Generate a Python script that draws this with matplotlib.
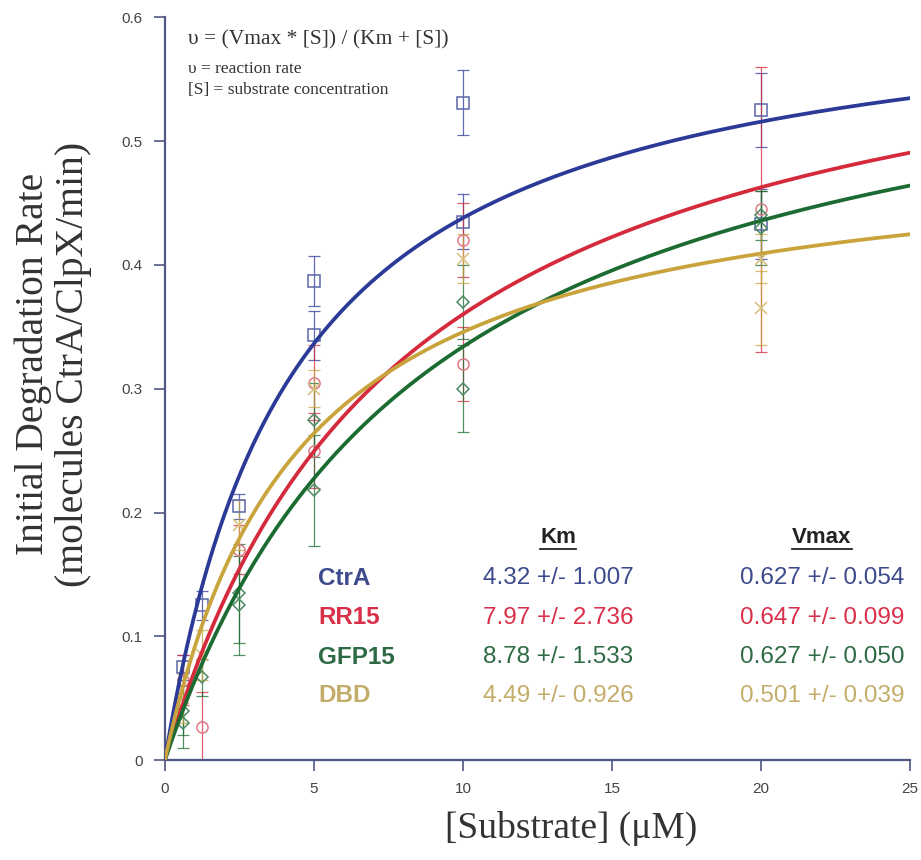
import matplotlib
matplotlib.use("Agg")
import matplotlib.pyplot as plt
import numpy as np

# ---------------------------------------------------------------- data
# fitted Michaelis-Menten parameters (Km in uM, Vmax in molecules/ClpX/min)
names   = ["CtrA", "RR15", "GFP15", "DBD"]
km      = [4.32, 7.97, 8.78, 4.49]
km_err  = [1.007, 2.736, 1.533, 0.926]
vmax    = [0.627, 0.647, 0.627, 0.501]
vmax_err = [0.054, 0.099, 0.050, 0.039]

# measured initial rates (replicates share a concentration)
ctra_x   = [0.625, 1.25, 2.5, 5, 5, 10, 10, 20, 20]
ctra_y   = [0.075, 0.125, 0.205, 0.387, 0.343, 0.531, 0.435, 0.525, 0.433]
ctra_e   = [0.010, 0.012, 0.010, 0.020, 0.020, 0.026, 0.022, 0.030, 0.028]

rr15_x   = [0.625, 1.25, 2.5, 5, 5, 10, 10, 20]
rr15_y   = [0.065, 0.027, 0.170, 0.305, 0.250, 0.420, 0.320, 0.445]
rr15_e   = [0.020, 0.028, 0.020, 0.030, 0.030, 0.030, 0.030, 0.115]

gfp15_x  = [0.625, 0.625, 1.25, 2.5, 2.5, 5, 5, 10, 10, 20, 20]
gfp15_y  = [0.040, 0.030, 0.067, 0.135, 0.125, 0.275, 0.218, 0.370, 0.300, 0.440, 0.430]
gfp15_e  = [0.020, 0.020, 0.015, 0.040, 0.040, 0.030, 0.045, 0.030, 0.035, 0.020, 0.030]

dbd_x    = [0.625, 1.25, 2.5, 5, 10, 20, 20]
dbd_y    = [0.050, 0.085, 0.190, 0.300, 0.405, 0.405, 0.365]
dbd_e    = [0.020, 0.020, 0.020, 0.015, 0.020, 0.020, 0.030]

xs   = [ctra_x, rr15_x, gfp15_x, dbd_x]
ys   = [ctra_y, rr15_y, gfp15_y, dbd_y]
errs = [ctra_e, rr15_e, gfp15_e, dbd_e]

line_c = ["#2b3a97", "#d42a3c", "#1c6b32", "#c9a43c"]
text_c = ["#3d4a8c", "#d9304a", "#2e6b45", "#c4ad6a"]
mark_c = ["#5a66a8", "#e07a86", "#4d8a62", "#d6c07a"]
markers = ["s", "o", "D", "x"]

spine_c = "#4f5785"

# ---------------------------------------------------------------- plot
fig = plt.figure(figsize=(9.21, 8.6), dpi=100)
ax = fig.add_axes([0.179, 0.116, 0.809, 0.864])

for i in range(4):
    ax.errorbar(xs[i], ys[i], yerr=errs[i], fmt="none", ecolor=line_c[i],
                elinewidth=0.9, capsize=4, capthick=0.9, alpha=0.75, zorder=2)
    ax.plot(xs[i], ys[i], markers[i], ms=8 if markers[i] != "D" else 6.5,
            mfc="none", mec=mark_c[i], mew=1.1, zorder=3)

s = np.linspace(0, 25, 400)
for i in range(4):
    ax.plot(s, vmax[i] * s / (km[i] + s), color=line_c[i], lw=2.7, zorder=4)

ax.set_xlim(0, 25)
ax.set_ylim(0, 0.6)
ax.set_xticks([0, 5, 10, 15, 20, 25])
ax.set_yticks([0, 0.1, 0.2, 0.3, 0.4, 0.5, 0.6])
ax.set_yticklabels(["0", "0.1", "0.2", "0.3", "0.4", "0.5", "0.6"])
for sp in ["top", "right"]:
    ax.spines[sp].set_visible(False)
for sp in ["left", "bottom"]:
    ax.spines[sp].set_color(spine_c)
    ax.spines[sp].set_linewidth(1.6)
ax.tick_params(direction="out", length=8, width=1.2, color=spine_c,
               labelsize=11, labelcolor="#444444", pad=8)
for lab in ax.get_xticklabels() + ax.get_yticklabels():
    lab.set_family("Liberation Sans")

ax.set_xlabel("[Substrate] (μM)", family="Liberation Serif", fontsize=27,
              color="#333333")
ax.xaxis.set_label_coords(0.545, -0.0915)
ax.set_ylabel("Initial Degradation Rate\n(molecules CtrA/ClpX/min)",
              family="Liberation Serif", fontsize=28.5, color="#333333",
              linespacing=1.12)
ax.yaxis.set_label_coords(-0.150, 0.533)
ax.yaxis.label.set_va("center")
ax.xaxis.label.set_va("center")

# equation block
ax.text(0.77, 0.582, "υ = (Vmax * [S]) / (Km + [S])", family="Liberation Serif",
        fontsize=15.5, color="#333333", va="center")
ax.text(0.77, 0.5585, "υ = reaction rate", family="Liberation Serif",
        fontsize=12.5, color="#333333", va="center")
ax.text(0.77, 0.5415, "[S] = substrate concentration", family="Liberation Serif",
        fontsize=12.5, color="#333333", va="center")

# parameter table
hdr_y = 0.180
row_y = [0.147, 0.115, 0.083, 0.052]
km_col, vmax_col = 13.2, 22.05
hdrs = []
hdrs.append(ax.text(km_col, hdr_y, "Km", family="Liberation Sans", fontsize=16,
                    weight="bold", color="#222222", ha="center", va="center"))
hdrs.append(ax.text(vmax_col, hdr_y, "Vmax", family="Liberation Sans", fontsize=16,
                    weight="bold", color="#222222", ha="center", va="center"))
for i in range(4):
    ax.text(5.15, row_y[i], names[i], family="Liberation Sans", fontsize=17.5,
            weight="bold", color=text_c[i], ha="left", va="center")
    ax.text(km_col, row_y[i], f"{km[i]:.2f} +/- {km_err[i]:.3f}",
            family="Liberation Sans", fontsize=17.5, color=text_c[i],
            ha="center", va="center")
    ax.text(vmax_col, row_y[i], f"{vmax[i]:.3f} +/- {vmax_err[i]:.3f}",
            family="Liberation Sans", fontsize=17.5, color=text_c[i],
            ha="center", va="center")

# underline the column headers
fig.canvas.draw()
inv = ax.transData.inverted()
for t in hdrs:
    bb = t.get_window_extent()
    (x0, y0), (x1, _) = inv.transform([(bb.x0, bb.y0 - 1), (bb.x1, bb.y0 - 1)])
    ax.plot([x0, x1], [y0, y0], color="#222222", lw=1.3, clip_on=False)

fig.savefig("out.png", dpi=100)
